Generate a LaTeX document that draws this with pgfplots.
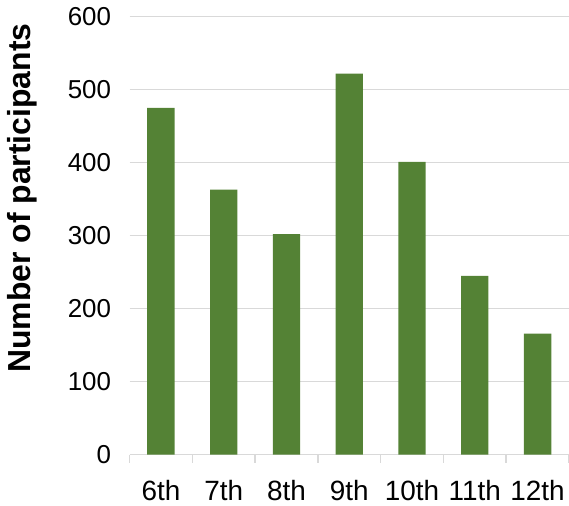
\documentclass[border=0pt]{standalone}
\usepackage{pgfplots}
\pgfplotsset{compat=1.18}
\usepackage{fontspec}
\setmainfont{Liberation Sans}
\definecolor{bargreen}{HTML}{548235}
\definecolor{gridgray}{HTML}{D9D9D9}
\begin{document}
\begin{tikzpicture}
\begin{axis}[
  width=439.5bp, height=438bp, scale only axis,
  xmin=-0.5, xmax=6.5, ymin=0, ymax=600,
  ytick={0,100,...,600},
  xtick={0,...,6},
  xticklabels={6th,7th,8th,9th,10th,11th,12th},
  minor xtick={-0.5,0.5,...,6.5},
  major tick length=0pt,
  minor tick length=8bp,
  tick align=outside,
  minor tick style={gridgray, line width=1.5bp},
  axis x line*=bottom,
  axis y line*=left,
  x axis line style={gridgray, line width=1.5bp, -},
  y axis line style={draw=none},
  ymajorgrids,
  grid style={gridgray, line width=1.5bp},
  /pgf/number format/assume math mode=true,
  yticklabel style={font=\fontsize{26}{30}\selectfont, text=black, xshift=-15bp},
  xticklabel style={font=\fontsize{28}{32}\selectfont, text=black, anchor=base, yshift=-45.3bp},
  ylabel={\textbf{Number of participants}},
  ylabel style={at={(axis description cs:-0.245,0.586)}, anchor=center, font=\fontsize{32}{36}\selectfont},
  bar width=0.435,
  clip=false,
]
\addplot[ybar, fill=bargreen, draw=none] coordinates {
  (0,475) (1,363) (2,302) (3,522) (4,401) (5,245) (6,166)
};
\coordinate (sw) at (rel axis cs:0,0);
\coordinate (ne) at (rel axis cs:1,1);
\end{axis}
\pgfresetboundingbox
\useasboundingbox ([xshift=-129.5bp, yshift=-51.3bp]sw) rectangle ([yshift=16.7bp]ne);
\end{tikzpicture}
\end{document}
